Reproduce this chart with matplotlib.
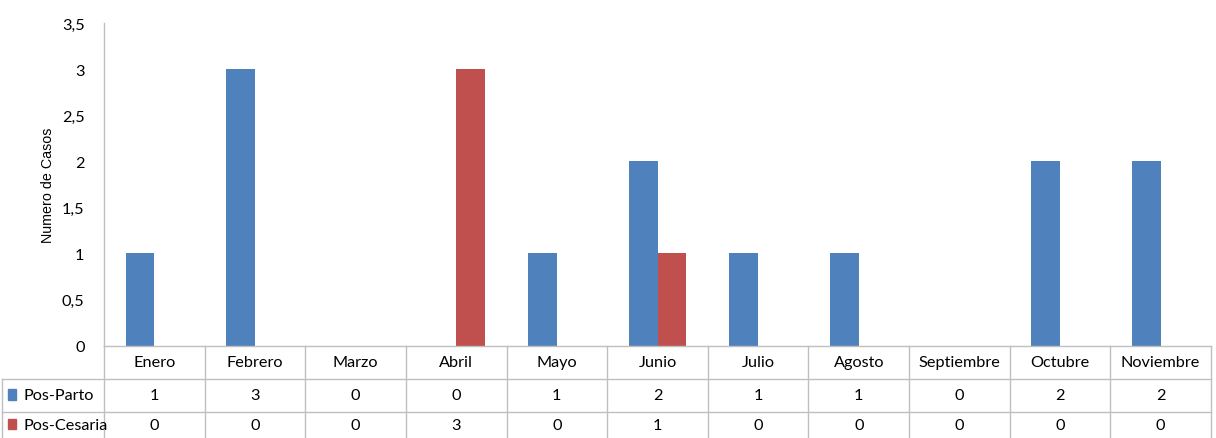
import matplotlib
matplotlib.use("Agg")
import matplotlib.pyplot as plt
import matplotlib.transforms as mtransforms
from matplotlib.patches import Rectangle
import numpy as np

months = ["Enero", "Febrero", "Marzo", "Abril", "Mayo", "Junio", "Julio",
          "Agosto", "Septiembre", "Octubre", "Noviembre"]
pos_parto = [1, 3, 0, 0, 1, 2, 1, 1, 0, 2, 2]
pos_cesaria = [0, 0, 0, 3, 0, 1, 0, 0, 0, 0, 0]
series_names = ["Pos-Parto", "Pos-Cesaria"]
colors = ["#4F81BD", "#C0504D"]
yticks = [0, 0.5, 1, 1.5, 2, 2.5, 3, 3.5]
ytick_labels = ["0", "0,5", "1", "1,5", "2", "2,5", "3", "3,5"]

FONT = ["Lato", "DejaVu Sans"]
plt.rcParams['font.family'] = FONT
FS = 11.7

W, H = 1216, 439
fig = plt.figure(figsize=(W / 100, H / 100), dpi=100)
left_px, right_px, top_px, bottom_px = 104, 1211, 24, 346.5
ax = fig.add_axes([left_px / W, (H - bottom_px) / H,
                   (right_px - left_px) / W, (bottom_px - top_px) / H])

x = np.arange(len(months))
bw = 1 / 3.5
ax.bar(x - bw / 2, pos_parto, bw, color=colors[0], zorder=2)
ax.bar(x + bw / 2, pos_cesaria, bw, color=colors[1], zorder=2)

ax.set_xlim(-0.5, len(months) - 0.5)
ax.set_ylim(0, 3.5)
ax.set_yticks(yticks)
ax.set_yticklabels(ytick_labels, fontsize=FS)
ax.tick_params(axis='y', length=0, pad=14)
ax.set_xticks([])
for s in ["top", "right", "bottom"]:
    ax.spines[s].set_visible(False)
ax.spines["left"].set_color("#BFBFBF")
ax.spines["left"].set_linewidth(1)
ax.set_ylabel("Numero de Casos", fontsize=10.3, family="Liberation Sans", labelpad=5)

# data table below axes
ax_h = bottom_px - top_px
def yf(px):
    return (bottom_px - px) / ax_h

trans = mtransforms.blended_transform_factory(ax.transData, ax.transAxes)
gray = "#BFBFBF"
row_lines = [bottom_px, 379.5, 412.5, 445]
n = len(months)
leg_left = -0.5 - (left_px - 2) / ((right_px - left_px) / n)

kw = dict(transform=trans, clip_on=False, color=gray, lw=1)
# horizontal lines
ax.plot([-0.5, n - 0.5], [yf(row_lines[0])] * 2, **kw)
for r in row_lines[1:3]:
    ax.plot([leg_left, n - 0.5], [yf(r)] * 2, **kw)
# vertical lines
for i in range(n + 1):
    ax.plot([i - 0.5, i - 0.5], [yf(row_lines[0]), yf(row_lines[3])], **kw)
ax.plot([leg_left, leg_left], [yf(row_lines[1]), yf(row_lines[3])], **kw)

# header text
for i, m in enumerate(months):
    ax.text(i, yf((row_lines[0] + row_lines[1]) / 2), m, transform=trans,
            ha='center', va='center', fontsize=FS, clip_on=False)
for ri, (name, vals, col) in enumerate(zip(series_names, [pos_parto, pos_cesaria], colors)):
    yc = yf((row_lines[1] + row_lines[2]) / 2) if ri == 0 else yf((row_lines[2] + 439) / 2)
    for i, v in enumerate(vals):
        ax.text(i, yc, str(v), transform=trans, ha='center', va='center',
                fontsize=FS, clip_on=False)
    # legend key
    ax.add_patch(Rectangle((leg_left + 0.06, yc - 0.014), 0.08, 0.032,
                           transform=trans, color=col, clip_on=False))
    ax.text(leg_left + 0.21, yc, name, transform=trans, ha='left', va='center',
            fontsize=FS, clip_on=False)

fig.savefig("out.png", dpi=100)
